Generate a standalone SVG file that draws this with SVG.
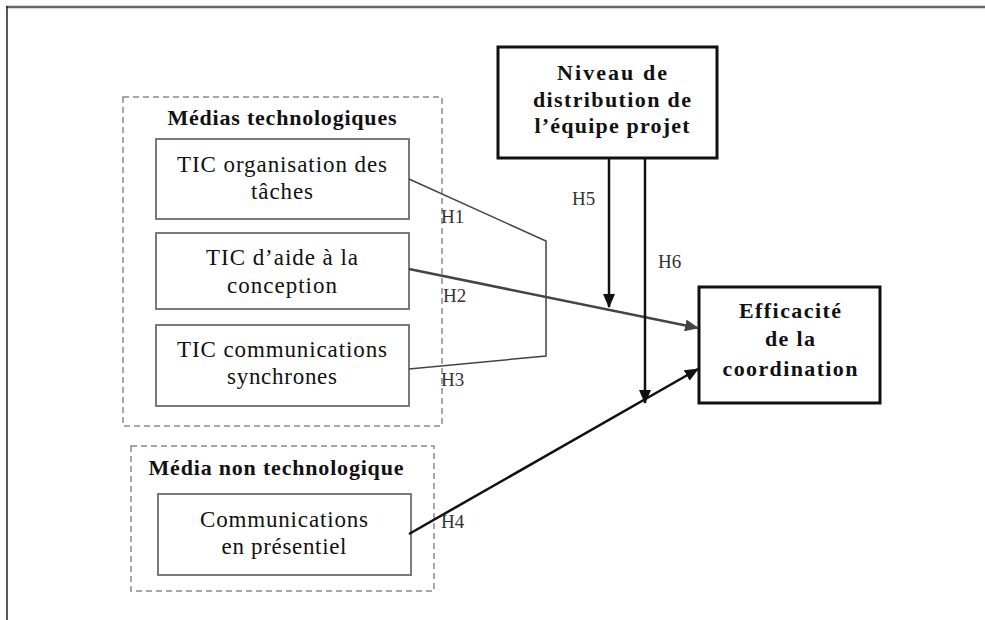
<svg xmlns="http://www.w3.org/2000/svg" width="985" height="620" viewBox="0 0 985 620">
<style>
.t{font-family:"Liberation Serif","Times New Roman",serif;font-size:23px;fill:#111;text-anchor:middle}
.b{font-family:"Liberation Serif","Times New Roman",serif;font-size:22px;font-weight:bold;fill:#111;text-anchor:middle}
.h{font-family:"Liberation Serif","Times New Roman",serif;font-size:19px;fill:#333}
.grp{fill:none;stroke:#8a8a8a;stroke-width:1.5;stroke-dasharray:6,4}
.box{fill:#fff;stroke:#7a7a7a;stroke-width:2}
.strong{fill:#fff;stroke:#111;stroke-width:3}
</style>
<defs>
<marker id="ag" viewBox="0 0 14 12" refX="13" refY="6" markerWidth="14" markerHeight="12" markerUnits="userSpaceOnUse" orient="auto"><path d="M0,0 L14,6 L0,12 z" fill="#444"/></marker>
<marker id="ab" viewBox="0 0 14 12" refX="13" refY="6" markerWidth="14" markerHeight="12" markerUnits="userSpaceOnUse" orient="auto"><path d="M0,0 L14,6 L0,12 z" fill="#111"/></marker>
</defs>
<rect width="985" height="620" fill="#fff"/>
<line x1="6" y1="7" x2="985" y2="7" stroke="#666" stroke-width="2.5"/>
<line x1="7" y1="6" x2="7" y2="620" stroke="#222" stroke-width="1.5"/>

<g id="grp-tech">
<rect class="grp" x="123" y="97" width="319" height="329"/>
<text class="b" x="282" y="125" textLength="229" lengthAdjust="spacing">Médias technologiques</text>
</g>
<g id="n-organisation">
<rect class="box" x="156" y="139" width="253" height="80"/>
<text class="t" x="282" y="172" textLength="210" lengthAdjust="spacing">TIC organisation des</text>
<text class="t" x="282" y="199" textLength="62" lengthAdjust="spacing">tâches</text>
</g>
<g id="n-aide">
<rect class="box" x="156" y="233" width="253" height="76"/>
<text class="t" x="282" y="265" textLength="152" lengthAdjust="spacing">TIC d’aide à la</text>
<text class="t" x="282" y="293" textLength="110" lengthAdjust="spacing">conception</text>
</g>
<g id="n-synchrones">
<rect class="box" x="156" y="325" width="253" height="81"/>
<text class="t" x="282" y="357" textLength="210" lengthAdjust="spacing">TIC communications</text>
<text class="t" x="282" y="384" textLength="110" lengthAdjust="spacing">synchrones</text>
</g>
<g id="grp-nontech">
<rect class="grp" x="131" y="446" width="303" height="145"/>
<text class="b" x="276" y="475" textLength="255" lengthAdjust="spacing">Média non technologique</text>
</g>
<g id="n-presentiel">
<rect class="box" x="158" y="494" width="253" height="81"/>
<text class="t" x="284" y="527" textLength="168" lengthAdjust="spacing">Communications</text>
<text class="t" x="284" y="554" textLength="125" lengthAdjust="spacing">en présentiel</text>
</g>
<g id="n-niveau">
<rect class="strong" x="498" y="47" width="219" height="111"/>
<text class="b" x="612" y="80" textLength="110" lengthAdjust="spacing">Niveau de</text>
<text class="b" x="612" y="107" textLength="158" lengthAdjust="spacing">distribution de</text>
<text class="b" x="612" y="133" textLength="155" lengthAdjust="spacing">l’équipe projet</text>
</g>
<g id="n-efficacite">
<rect class="strong" x="699" y="287" width="181" height="116"/>
<text class="b" x="790" y="318" textLength="102" lengthAdjust="spacing">Efficacité</text>
<text class="b" x="790" y="346" textLength="50" lengthAdjust="spacing">de la</text>
<text class="b" x="790" y="376" textLength="135" lengthAdjust="spacing">coordination</text>
</g>

<g id="connectors">
<polyline points="409,179 546,241 546,356 409,369" fill="none" stroke="#444" stroke-width="1.5"/>
<line x1="409" y1="269" x2="698" y2="328" stroke="#444" stroke-width="2.5" marker-end="url(#ag)"/>
<line x1="609" y1="158" x2="609" y2="307" stroke="#111" stroke-width="2.5" marker-end="url(#ab)"/>
<line x1="645" y1="158" x2="645" y2="403" stroke="#111" stroke-width="2.5" marker-end="url(#ab)"/>
<line x1="409" y1="534" x2="698" y2="369" stroke="#111" stroke-width="2.5" marker-end="url(#ab)"/>
<text class="h" x="441" y="223">H1</text>
<text class="h" x="443" y="302">H2</text>
<text class="h" x="441" y="386">H3</text>
<text class="h" x="441" y="528">H4</text>
<text class="h" x="572" y="205">H5</text>
<text class="h" x="658" y="268">H6</text>
</g>
</svg>
